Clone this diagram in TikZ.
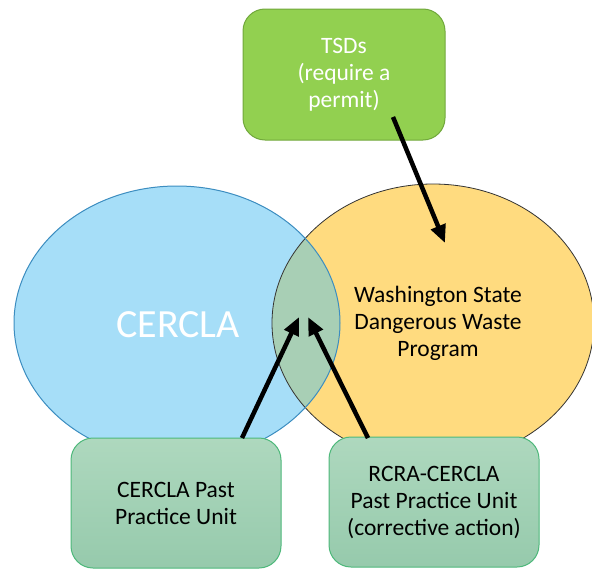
\documentclass[tikz,border=0pt]{standalone}
\usepackage{fontspec}
\setmainfont{Carlito}
\usetikzlibrary{arrows.meta, shapes.geometric, positioning}

\definecolor{cerblue}{RGB}{166,222,248}
\definecolor{cerline}{RGB}{60,141,192}
\definecolor{wayellow}{RGB}{255,219,127}
\definecolor{lensgreen}{RGB}{168,207,181}
\definecolor{tsdgreen}{RGB}{146,208,80}
\definecolor{tsdline}{RGB}{113,168,60}
\definecolor{unitlight}{RGB}{174,216,190}
\definecolor{unitdark}{RGB}{150,202,172}
\definecolor{unitline}{RGB}{77,184,122}

\begin{document}
\begin{tikzpicture}[x=1pt, y=-1pt,
		every node/.append style = {font=\fontsize{23.5}{27}\selectfont, align=center},
		unit/.style = {draw=unitline, line width=1pt, rounded corners=22pt, shading=axis, shading angle=135, top color=unitlight, bottom color=unitdark, minimum width=210pt, minimum height=130pt},
		arr/.style = {line width=4.5pt, -{Triangle[length=18pt, width=15pt]}}]
	\useasboundingbox (0,0) rectangle (592,570);

	% the two programs
	\fill[cerblue] (177,323) ellipse [x radius=163, y radius=137];
	\fill[wayellow] (433,323) ellipse [x radius=161, y radius=139];
	\begin{scope}
		\clip (177,323) ellipse [x radius=163, y radius=137];
		\fill[lensgreen] (433,323) ellipse [x radius=161, y radius=139];
	\end{scope}
	\draw[black!80, line width=0.8pt] (433,323) ellipse [x radius=161, y radius=139];
	\draw[cerline, line width=1pt] (177,323) ellipse [x radius=163, y radius=137];

	\node[font=\fontsize{40}{46}\selectfont, text=white] (cercla) at (178,325) {CERCLA};
	\node (wsdwp) at (438,323) {Washington State\\Dangerous Waste\\Program};

	% boxes
	\node[draw=tsdline, line width=1pt, fill=tsdgreen, rounded corners=22pt, minimum width=202pt, minimum height=131pt, text=white] (tsd) at (344,74.5) {TSDs\\(require a\\permit)};
	\node[unit] (cpu) at (176,503) {CERCLA Past\\Practice Unit};
	\node[unit] (rcpu) at (434,502) {RCRA-CERCLA\\Past Practice Unit\\(corrective action)};

	% arrow ends
	\coordinate (tsd-out) at (393,117);
	\coordinate (wsdwp-in) at (445,243);
	\coordinate (cpu-out) at (242,438);
	\coordinate (lens-l) at (299,317);
	\coordinate (rcpu-out) at (368,438);
	\coordinate (lens-r) at (308,317);

	\path[arr]
		(tsd-out) edge (wsdwp-in)
		(cpu-out) edge (lens-l)
		(rcpu-out) edge (lens-r);
\end{tikzpicture}
\end{document}
